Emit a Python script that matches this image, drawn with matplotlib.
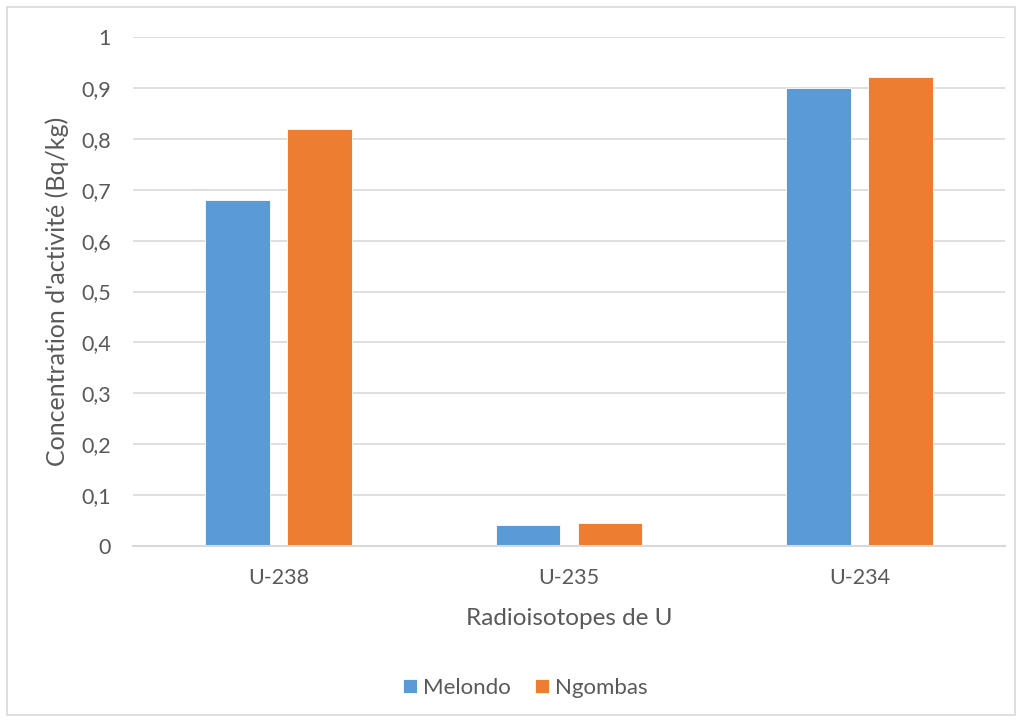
import matplotlib
matplotlib.use("Agg")
import matplotlib.pyplot as plt
from matplotlib.patches import Rectangle
import numpy as np

categories = ["U-238", "U-235", "U-234"]
melondo = [0.68, 0.042, 0.90]
ngombas = [0.82, 0.046, 0.922]
series_names = ["Melondo", "Ngombas"]
yticks = [0, 0.1, 0.2, 0.3, 0.4, 0.5, 0.6, 0.7, 0.8, 0.9, 1.0]
ytick_labels = ["0", "0,1", "0,2", "0,3", "0,4", "0,5", "0,6", "0,7", "0,8", "0,9", "1"]

plt.rcParams["font.family"] = ["Lato", "DejaVu Sans"]
text_color = "#595959"
grid_color = "#D9D9D9"
blue = "#5B9BD5"
orange = "#ED7D31"

fig = plt.figure(figsize=(10.22, 7.22), dpi=100)
fig.patch.set_facecolor("white")
fig.add_artist(Rectangle((7 / 1022, 7 / 722), 1 - 14 / 1022, 1 - 14 / 722,
                         transform=fig.transFigure, fill=False,
                         edgecolor=grid_color, linewidth=1.2))

ax = fig.add_axes([133 / 1022, 1 - 546 / 722, (1005 - 133) / 1022, (546 - 37) / 722])

x = np.arange(len(categories))
w = 0.222
off = 0.141
ax.bar(x - off, melondo, w, color=blue, edgecolor="white", linewidth=0.6,
       label=series_names[0], zorder=3)
ax.bar(x + off, ngombas, w, color=orange, edgecolor="white", linewidth=0.6,
       label=series_names[1], zorder=3)

ax.set_xlim(-0.5, len(categories) - 0.5)
ax.set_ylim(0, 1)
ax.set_yticks(yticks)
ax.set_yticklabels(ytick_labels)
ax.set_xticks(x)
ax.set_xticklabels(categories)
ax.tick_params(axis="both", length=0, colors=text_color, labelsize=15.5)
ax.tick_params(axis="y", pad=16)
ax.tick_params(axis="x", pad=16)

ax.grid(axis="y", color=grid_color, linewidth=1.2, zorder=0)
for s in ["top", "right", "left"]:
    ax.spines[s].set_visible(False)
ax.spines["bottom"].set_color(grid_color)
ax.spines["bottom"].set_linewidth(1.5)
ax.spines["bottom"].set_zorder(4)

ax.set_ylabel("Concentration d'activité (Bq/kg)", fontsize=18, color=text_color, labelpad=9)
ax.set_xlabel("Radioisotopes de U", fontsize=17.5, color=text_color, labelpad=14)

leg = fig.legend(loc="center", bbox_to_anchor=(525 / 1022, 1 - 688 / 722), ncol=2,
                 frameon=False, fontsize=16, handlelength=0.63, handleheight=0.63,
                 handletextpad=0.27, columnspacing=1.1)
for t in leg.get_texts():
    t.set_color(text_color)

fig.savefig("out.png", dpi=100, facecolor="white")
